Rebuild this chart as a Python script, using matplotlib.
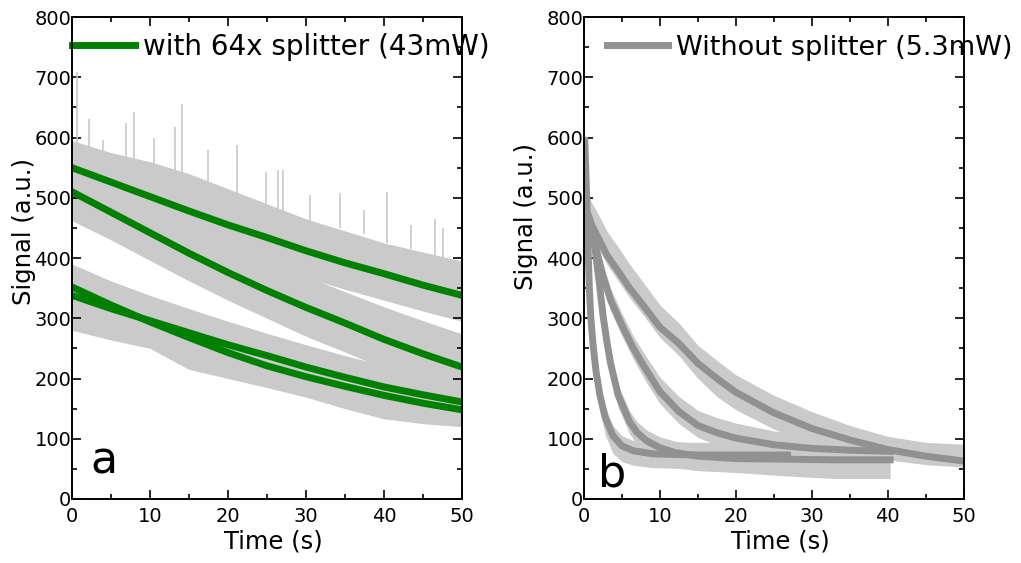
import matplotlib
matplotlib.use('Agg')
import matplotlib.pyplot as plt
from matplotlib.ticker import MultipleLocator

plt.rcParams['font.family'] = ['DejaVu Sans']

# ---- panel a: with 64x splitter (43mW) ----
ax_t = [0, 5, 10, 15, 20, 25, 30, 35, 40, 45, 50]
fitA1 = [550, 526, 502, 478, 455, 434, 412, 392, 374, 355, 338]
fitA2 = [510, 476, 442, 408, 376, 346, 318, 292, 265, 241, 219]
fitA3 = [352, 322, 294, 268, 243, 221, 203, 187, 172, 159, 148]
fitA4 = [338, 316, 296, 276, 256, 238, 219, 202, 186, 173, 161]

# light grey raw traces (envelopes)
rawA1_hi = [595, 575, 560, 540, 515, 490, 465, 445, 425, 410, 395]
rawA1_lo = [500, 478, 455, 432, 410, 390, 368, 348, 330, 312, 295]
rawA2_hi = [560, 528, 494, 460, 428, 398, 370, 344, 319, 296, 274]
rawA2_lo = [462, 430, 396, 362, 330, 300, 270, 244, 217, 193, 170]
rawA3_hi = [390, 362, 338, 316, 295, 275, 256, 238, 222, 208, 196]
rawA3_lo = [280, 264, 250, 215, 200, 185, 169, 150, 133, 125, 120]

spike_x = [0.7, 2.2, 4.0, 6.9, 7.9, 10.5, 13.2, 14.1, 17.5, 21.1, 24.9, 26.4, 27.0,
	30.5, 34.4, 37.5, 40.4, 43.5, 46.5, 47.6]
spike_top = [709, 630, 596, 624, 642, 600, 617, 655, 580, 588, 543, 546, 546,
	505, 508, 480, 510, 455, 465, 450]
spike_base = [580, 570, 565, 555, 550, 545, 530, 525, 512, 500, 485, 480, 478,
	460, 450, 440, 425, 415, 405, 402]

# ---- panel b: without splitter (5.3mW) ----
tB1 = [0.6, 1, 2, 3, 4.5, 6, 8, 10, 12.5, 15, 17.5, 20, 25, 30, 35, 40, 45, 50]
fitB1 = [470, 455, 430, 405, 378, 350, 318, 285, 258, 225, 200, 177, 143, 117, 98, 82, 71, 63]
rawB1_hi = [505, 492, 470, 445, 418, 390, 356, 322, 292, 255, 230, 206, 172, 145, 122, 104, 94, 91]
rawB1_lo = [452, 438, 414, 390, 362, 334, 302, 268, 238, 200, 170, 148, 116, 93, 78, 65, 57, 53]

tB2 = [0.8, 1.5, 2.5, 3.5, 5, 6.5, 8, 10, 12.5, 15, 17.5, 20, 25, 30, 35, 40.3]
fitB2 = [460, 420, 370, 330, 288, 250, 218, 178, 145, 122, 110, 101, 90, 84, 81, 79]
rawB2_hi = [478, 440, 390, 350, 308, 270, 240, 202, 170, 147, 135, 126, 113, 106, 102, 100]
rawB2_lo = [442, 402, 352, 312, 270, 232, 198, 158, 125, 102, 90, 81, 70, 64, 60, 58]

tB3 = [0.8, 1.05, 1.5, 2, 2.5, 3, 3.5, 4.5, 6, 7, 8.3, 10, 12, 15, 20, 27, 33, 40.3]
fitB3 = [460, 446, 410, 360, 305, 262, 225, 172, 128, 110, 96, 85, 77, 71, 67, 66, 65, 65]
rawB3_hi = [478, 464, 428, 378, 323, 280, 243, 190, 146, 128, 114, 103, 96, 92, 90, 90, 90, 90]
rawB3_lo = [440, 426, 390, 340, 285, 242, 205, 152, 108, 90, 74, 60, 52, 47, 44, 38, 34, 34]

tB4 = [0.1, 0.3, 0.5, 0.7, 0.9, 1.2, 1.6, 2.1, 2.8, 3.8, 5, 6.5, 9, 15, 26.8]
fitB4 = [595, 520, 430, 350, 300, 255, 210, 172, 135, 105, 88, 80, 75, 73, 73]
rawB4_hi = [612, 537, 447, 367, 317, 272, 227, 189, 152, 122, 105, 97, 94, 94, 94]
rawB4_lo = [572, 497, 407, 327, 277, 232, 185, 145, 106, 76, 62, 56, 52, 50, 50]

GREEN = '#008000'
GREY = '#919191'
LIGHT = '#cacaca'

fig = plt.figure(figsize=(10.21, 5.63), dpi=100)
axa = fig.add_axes([0.0705, 0.1137, 0.382, 0.856])
axb = fig.add_axes([0.572, 0.1137, 0.372, 0.856])


def style(ax, xlab_x, ylab_x, ylab_y):
	ax.set_xlim(0, 50)
	ax.set_ylim(0, 800)
	ax.xaxis.set_major_locator(MultipleLocator(10))
	ax.xaxis.set_minor_locator(MultipleLocator(5))
	ax.yaxis.set_major_locator(MultipleLocator(100))
	ax.yaxis.set_minor_locator(MultipleLocator(50))
	ax.tick_params(which='both', direction='in', top=True, right=True, width=1.2)
	ax.tick_params(which='major', length=6.5)
	ax.tick_params(which='minor', length=3.8)
	ax.tick_params(axis='y', pad=0.5, labelsize=14)
	ax.tick_params(axis='x', pad=6, labelsize=14)
	for s in ax.spines.values():
		s.set_linewidth(1.4)
	ax.set_xlabel('Time (s)', fontsize=17.5)
	ax.set_ylabel('Signal (a.u.)', fontsize=17.5)
	ax.xaxis.set_label_coords(xlab_x, -0.063)
	ax.yaxis.set_label_coords(ylab_x, ylab_y)


# panel a
for hi, lo in [(rawA1_hi, rawA1_lo), (rawA2_hi, rawA2_lo), (rawA3_hi, rawA3_lo)]:
	axa.fill_between(ax_t, lo, hi, color=LIGHT, lw=0)
axa.vlines(spike_x, spike_base, spike_top, color=LIGHT, lw=1.2)
axa.plot(ax_t, fitA1, color=GREEN, lw=5, label='with 64x splitter (43mW)')
for f in [fitA2, fitA3, fitA4]:
	axa.plot(ax_t, f, color=GREEN, lw=5)
style(axa, 0.517, -0.092, 0.554)
leg = axa.legend(loc='center left', bbox_to_anchor=(0, 0.9375), frameon=False, fontsize=20,
	handlelength=2.27, handletextpad=0.29, borderpad=0, borderaxespad=0)
leg.set_zorder(2)
axa.text(2.3, 43, 'a', fontsize=32)

# panel b
for t, hi, lo in [(tB1, rawB1_hi, rawB1_lo), (tB2, rawB2_hi, rawB2_lo),
		(tB3, rawB3_hi, rawB3_lo), (tB4, rawB4_hi, rawB4_lo)]:
	axb.fill_between(t, lo, hi, color=LIGHT, lw=0)
axb.plot(tB1, fitB1, color=GREY, lw=5, label='Without splitter (5.3mW)')
for t, f in [(tB2, fitB2), (tB3, fitB3), (tB4, fitB4)]:
	axb.plot(t, f, color=GREY, lw=5)
style(axb, 0.518, -0.12, 0.587)
leg = axb.legend(loc='center left', bbox_to_anchor=(0.0605, 0.936), frameon=False, fontsize=19.5,
	handlelength=2.25, handletextpad=0.3, borderpad=0, borderaxespad=0)
leg.set_zorder(2)
axb.text(1.8, 20, 'b', fontsize=32)

fig.savefig('out.png', dpi=100)
